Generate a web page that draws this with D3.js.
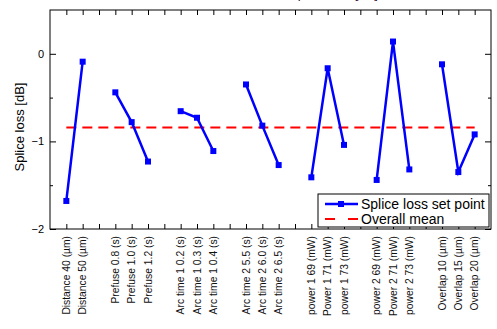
<!DOCTYPE html>
<html>
<head>
<meta charset="utf-8">
<script src="https://cdn.jsdelivr.net/npm/d3@7"></script>
<style>
  body { margin: 0; background: #fff; }
  svg { display: block; font-family: "Liberation Sans", Arial, sans-serif; }
</style>
</head>
<body>
<svg id="chart" width="497" height="329"></svg>
<script>
// one slot per x position, empty strings are gaps between factor groups
const categories = [
  "Distance 40 (µm)", "Distance 50 (µm)", "",
  "Prefuse 0.8 (s)", "Prefuse 1.0 (s)", "Prefuse 1.2 (s)", "",
  "Arc time 1 0.2 (s)", "Arc time 1 0.3 (s)", "Arc time 1 0.4 (s)", "",
  "Arc time 2 5.5 (s)", "Arc time 2 6.0 (s)", "Arc time 2 6.5 (s)", "",
  "power 1 69 (mW)", "Power 1 71 (mW)", "power 1 73 (mW)", "",
  "power 2 69 (mW)", "Power 2 71 (mW)", "power 2 73 (mW)", "",
  "Overlap 10 (µm)", "Overlap 15 (µm)", "Overlap 20 (µm)"
];
const spliceLoss = [
  -1.68, -0.09, null,
  -0.44, -0.78, -1.23, null,
  -0.655, -0.73, -1.11, null,
  -0.35, -0.82, -1.27, null,
  -1.41, -0.165, -1.04, null,
  -1.44, 0.14, -1.32, null,
  -0.12, -1.35, -0.92
];
const overallMean = -0.84;
const yTicks = [-2, -1, 0];
const yMinorTicks = [-1.5, -0.5];

const svg = d3.select("#chart");
const margin = {top: 10, right: 6, bottom: 100, left: 50};
const width = 497, height = 329;

const x = d3.scaleLinear()
  .domain([0, categories.length + 1])
  .range([margin.left, width - margin.right]);
const y = d3.scaleLinear()
  .domain([-2, 0.5])
  .range([height - margin.bottom, margin.top]);

const points = categories.map((c, i) => ({pos: i + 1, label: c, value: spliceLoss[i]}));
const allPos = d3.range(1, categories.length + 1);

// title, almost entirely above the visible area
svg.append("text")
  .attr("x", 378).attr("y", 11)
  .attr("text-anchor", "end")
  .attr("font-size", 13)
  .attr("fill", "#3a1040")
  .attr("transform", "translate(0,-13)")
  .text("Main effects on splice loss [dB]");

// frame
svg.append("rect")
  .attr("x", x.range()[0]).attr("y", y.range()[1])
  .attr("width", x.range()[1] - x.range()[0])
  .attr("height", y.range()[0] - y.range()[1])
  .attr("fill", "none").attr("stroke", "#000").attr("stroke-width", 1);

// inward ticks on all sides
const xAxisBottom = d3.axisBottom(x).tickValues(allPos).tickSize(-5).tickFormat("");
const xAxisTop = d3.axisTop(x).tickValues(allPos).tickSize(-5).tickFormat("");
svg.append("g").attr("transform", `translate(0,${y.range()[0]})`).call(xAxisBottom)
  .call(g => g.select(".domain").remove());
svg.append("g").attr("transform", `translate(0,${y.range()[1]})`).call(xAxisTop)
  .call(g => g.select(".domain").remove());

const yAxisLeft = d3.axisLeft(y).tickValues(yTicks).tickSize(-6).tickPadding(6)
  .tickFormat(d3.format("d"));
svg.append("g").attr("transform", `translate(${x.range()[0]},0)`).call(yAxisLeft)
  .call(g => g.select(".domain").remove())
  .call(g => g.selectAll("text").attr("font-size", 11).attr("font-family", "Liberation Sans, Arial, sans-serif"));
svg.append("g").attr("transform", `translate(${x.range()[0]},0)`)
  .call(d3.axisLeft(y).tickValues(yMinorTicks).tickSize(-3).tickFormat(""))
  .call(g => g.select(".domain").remove());
svg.append("g").attr("transform", `translate(${x.range()[1]},0)`)
  .call(d3.axisRight(y).tickValues(yTicks).tickSize(-6).tickFormat(""))
  .call(g => g.select(".domain").remove());
svg.append("g").attr("transform", `translate(${x.range()[1]},0)`)
  .call(d3.axisRight(y).tickValues(yMinorTicks).tickSize(-3).tickFormat(""))
  .call(g => g.select(".domain").remove());

// rotated category labels
svg.append("g").selectAll("text")
  .data(points.filter(d => d.label))
  .join("text")
  .attr("transform", d => `translate(${x(d.pos) + 3.5},${y.range()[0] + 7}) rotate(-90)`)
  .attr("text-anchor", "end")
  .attr("font-size", 10.3)
  .attr("fill", "#111")
  .text(d => d.label);

// y label
svg.append("text")
  .attr("transform", "translate(24,127) rotate(-90)")
  .attr("text-anchor", "middle")
  .attr("font-size", 13)
  .text("Splice loss [dB]");

// overall mean
svg.append("line")
  .attr("x1", x(1)).attr("x2", x(categories.length))
  .attr("y1", y(overallMean)).attr("y2", y(overallMean))
  .attr("stroke", "#ff0000").attr("stroke-width", 2)
  .attr("stroke-dasharray", "10,6");

// series
const line = d3.line()
  .defined(d => d.value !== null)
  .x(d => x(d.pos))
  .y(d => y(d.value));
svg.append("path")
  .datum(points)
  .attr("d", line)
  .attr("fill", "none").attr("stroke", "#0000ff").attr("stroke-width", 2.5);
svg.append("g").selectAll("rect")
  .data(points.filter(d => d.value !== null))
  .join("rect")
  .attr("x", d => x(d.pos) - 3).attr("y", d => y(d.value) - 3)
  .attr("width", 6).attr("height", 6)
  .attr("fill", "#0000ff");

// legend
const lg = svg.append("g").attr("transform", "translate(318,194)");
lg.append("rect").attr("width", 171).attr("height", 33)
  .attr("fill", "#fff").attr("stroke", "#000").attr("stroke-width", 1);
lg.append("line").attr("x1", 7).attr("x2", 40).attr("y1", 10).attr("y2", 10)
  .attr("stroke", "#0000ff").attr("stroke-width", 2.5);
lg.append("rect").attr("x", 20).attr("y", 7).attr("width", 6).attr("height", 6).attr("fill", "#0000ff");
lg.append("line").attr("x1", 7).attr("x2", 40).attr("y1", 25).attr("y2", 25)
  .attr("stroke", "#ff0000").attr("stroke-width", 2).attr("stroke-dasharray", "10,13");
lg.append("text").attr("x", 43).attr("y", 15).attr("font-size", 14).text("Splice loss set point");
lg.append("text").attr("x", 43).attr("y", 30).attr("font-size", 14).text("Overall mean");
</script>
</body>
</html>
